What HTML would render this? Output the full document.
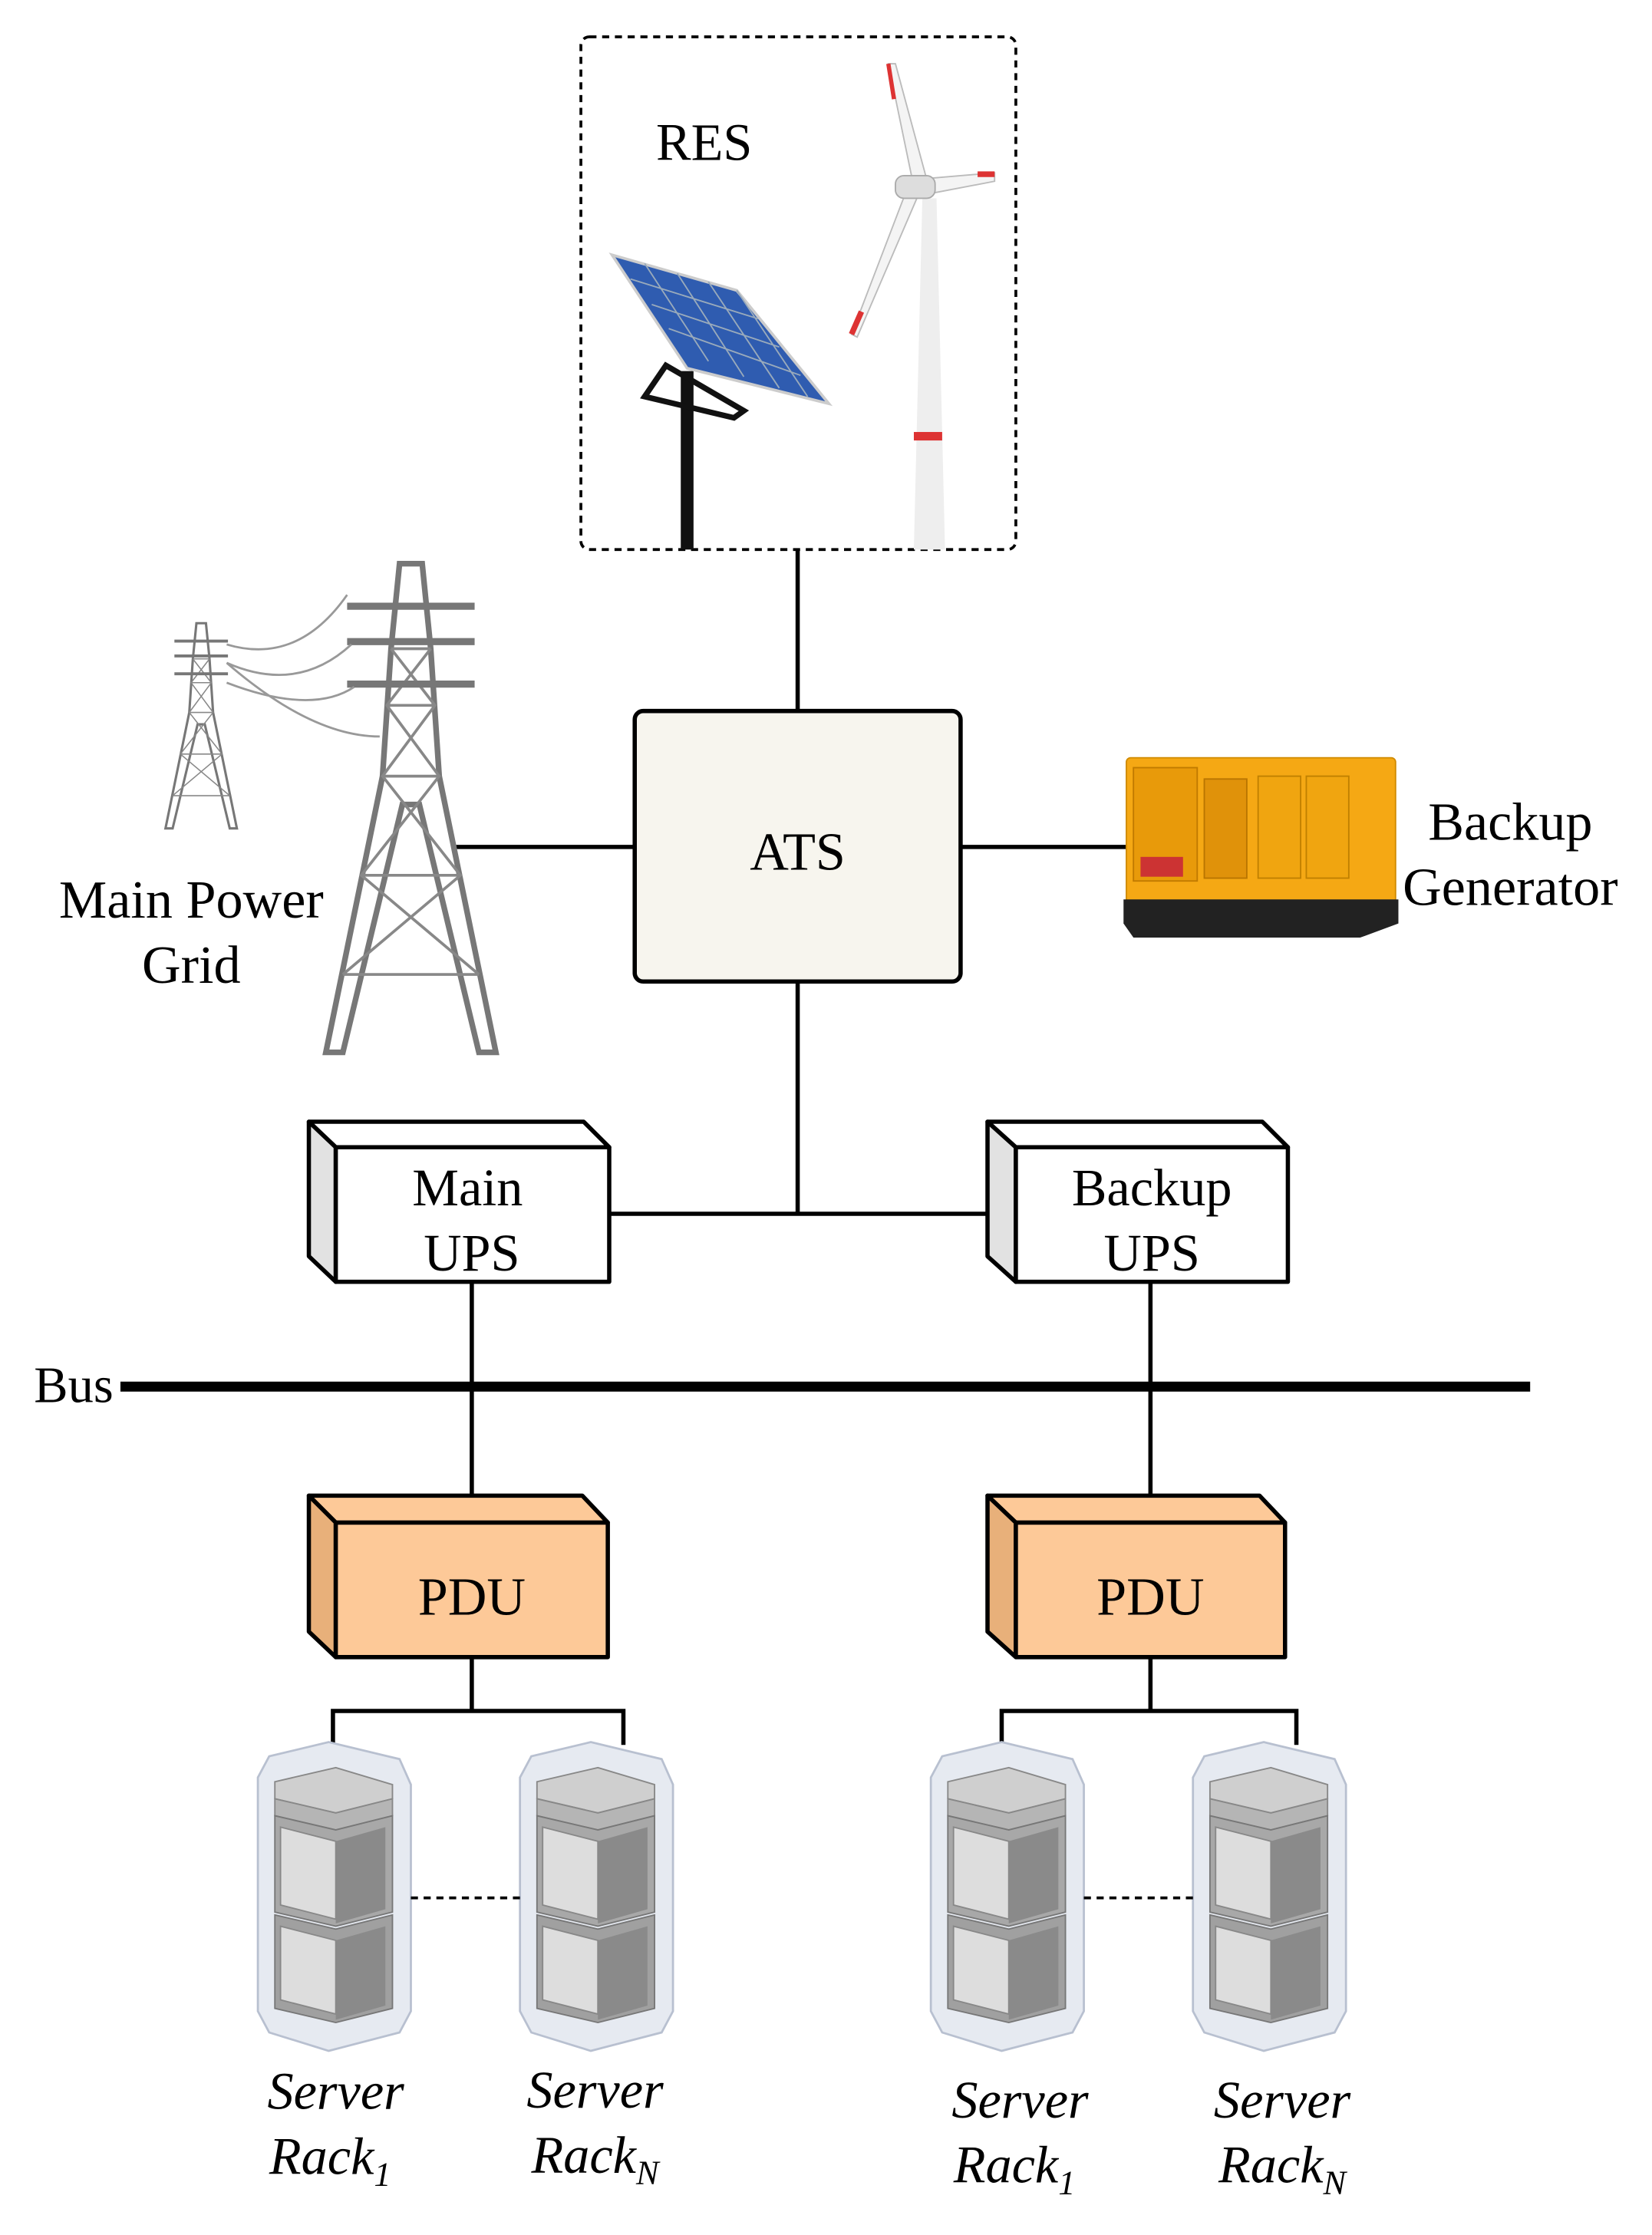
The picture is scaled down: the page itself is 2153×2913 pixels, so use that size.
<!DOCTYPE html>
<html><head><meta charset="utf-8"><style>
html,body{margin:0;padding:0;background:#fff}
svg{display:block}
text{font-family:"Liberation Serif",serif;fill:#000}
</style></head><body>
<svg width="2153" height="2913" viewBox="0 0 1166 1578" preserveAspectRatio="none" xmlns="http://www.w3.org/2000/svg">
<defs>
<g id="rack">
  <path d="M8,10 L50,0 L100,12 L108,30 L108,190 L100,205 L50,218 L8,205 L0,190 L0,25 Z" fill="#e6eaf1" stroke="#b8c0d0" stroke-width="1.5"/>
  <path d="M12,28 L55,18 L95,30 L95,40 L55,50 L12,40 Z" fill="#cfcfcf" stroke="#888"/>
  <path d="M12,40 L55,50 L95,40 L95,52 L55,62 L12,52 Z" fill="#b5b5b5" stroke="#888"/>
  <path d="M12,52 L55,62 L95,52 L95,120 L55,130 L12,120 Z" fill="#a8a8a8" stroke="#777"/>
  <path d="M16,60 L55,70 L55,125 L16,115 Z" fill="#ddd" stroke="#888"/>
  <path d="M12,122 L55,132 L95,122 L95,188 L55,198 L12,188 Z" fill="#a0a0a0" stroke="#777"/>
  <path d="M16,130 L55,140 L55,192 L16,182 Z" fill="#ddd" stroke="#888"/>
  <path d="M55,70 L90,60 L90,118 L55,128 Z" fill="#8a8a8a"/>
  <path d="M55,140 L90,130 L90,186 L55,196 Z" fill="#8a8a8a"/>
</g>
<g id="tower">
  <path d="M-8,0 L8,0 L14,60 L20,150 L60,345 L48,345 L6,170 L-6,170 L-48,345 L-60,345 L-20,150 L-14,60 Z" fill="none" stroke="#777" stroke-width="4"/>
  <path d="M-14,60 L14,60 M-17,100 L17,100 M-20,150 L20,150 M-35,220 L35,220 M-48,290 L48,290 M-14,60 L17,100 L-20,150 L35,220 L-48,290 M14,60 L-17,100 L20,150 L-35,220 L48,290" stroke="#888" stroke-width="2" fill="none"/>
  <path d="M-45,30 L45,30 M-45,55 L45,55 M-45,85 L45,85" stroke="#777" stroke-width="5"/>
</g>
</defs>

<!-- RES box -->
<rect x="410" y="26" width="307" height="362" rx="6" fill="none" stroke="#000" stroke-width="2" stroke-dasharray="5,4"/>
<text x="497" y="113" font-size="37" text-anchor="middle">RES</text>
<!-- solar -->
<line x1="485" y1="262" x2="485" y2="388" stroke="#111" stroke-width="9"/>
<path d="M455,280 L470,258 L525,290 L518,295 Z" fill="none" stroke="#111" stroke-width="4"/>
<path d="M432,180 L520,205 L585,285 L485,260 Z" fill="#2f5cb0" stroke="#ccc" stroke-width="2"/>
<path d="M445,197 L535,225 M460,215 L550,245 M472,232 L565,265 M455,186 L500,255 M478,193 L525,266 M500,199 L550,274 M520,205 L570,280" stroke="#9ab" stroke-width="1" fill="none"/>
<!-- wind -->
<path d="M651,140 L661,140 L667,388 L645,388 Z" fill="#eee"/>
<rect x="645" y="305" width="20" height="6" fill="#d33"/>
<path d="M645,132 L627,45 L632,45 L655,130 Z" fill="#f4f4f4" stroke="#bbb"/>
<path d="M655,126 L702,122 L702,128 L660,136 Z" fill="#f4f4f4" stroke="#bbb"/>
<path d="M648,138 L605,238 L601,236 L640,134 Z" fill="#f4f4f4" stroke="#bbb"/>
<rect x="632" y="124" width="28" height="16" rx="6" fill="#ddd" stroke="#aaa"/>
<line x1="627" y1="45" x2="631" y2="70" stroke="#d33" stroke-width="3"/>
<line x1="690" y1="123" x2="702" y2="123" stroke="#d33" stroke-width="4"/>
<line x1="601" y1="236" x2="608" y2="220" stroke="#d33" stroke-width="4"/>

<!-- connectors -->
<g stroke="#000" stroke-width="3" fill="none">
<line x1="563" y1="388" x2="563" y2="502"/>
<line x1="322" y1="598" x2="448" y2="598"/>
<line x1="678" y1="598" x2="795" y2="598"/>
<line x1="563" y1="693" x2="563" y2="857"/>
<line x1="430" y1="857" x2="697" y2="857"/>
<line x1="333" y1="905" x2="333" y2="1056"/>
<line x1="812" y1="905" x2="812" y2="1056"/>
<line x1="333" y1="1170" x2="333" y2="1208"/>
<path d="M235,1232 V1208 H440 V1232"/>
<line x1="812" y1="1170" x2="812" y2="1208"/>
<path d="M707,1232 V1208 H915 V1232"/>
</g>
<line x1="85" y1="979" x2="1080" y2="979" stroke="#000" stroke-width="7"/>
<text x="52" y="990" font-size="36" text-anchor="middle">Bus</text>

<!-- towers -->
<g transform="translate(142,440) scale(0.42)"><use href="#tower"/></g>
<g transform="translate(290,398) scale(1.0)"><use href="#tower"/></g>
<path d="M160,455 Q210,470 245,420 M160,468 Q210,490 248,455 M160,482 Q220,505 250,485 M160,468 Q220,520 268,520" stroke="#999" stroke-width="1.5" fill="none"/>
<text x="135" y="648" font-size="38" text-anchor="middle">Main Power</text>
<text x="135" y="694" font-size="38" text-anchor="middle">Grid</text>

<!-- ATS -->
<rect x="448" y="502" width="230" height="191" rx="6" fill="#f7f5ee" stroke="#000" stroke-width="3"/>
<text x="563" y="614" font-size="38" text-anchor="middle">ATS</text>

<!-- generator -->
<rect x="795" y="535" width="190" height="105" rx="3" fill="#f5a814" stroke="#d08a00"/>
<rect x="800" y="542" width="45" height="80" fill="#e89a0a" stroke="#c07a00"/>
<rect x="850" y="550" width="30" height="70" fill="#e0920a" stroke="#b97500"/>
<rect x="888" y="548" width="30" height="72" fill="#f0a510" stroke="#c08000"/>
<rect x="922" y="548" width="30" height="72" fill="#f0a510" stroke="#c08000"/>
<rect x="805" y="605" width="30" height="14" fill="#c33"/>
<path d="M793,635 L987,635 L987,652 L960,662 L800,662 L793,652 Z" fill="#222"/>
<text x="1066" y="593" font-size="38" text-anchor="middle">Backup</text>
<text x="1066" y="639" font-size="38" text-anchor="middle">Generator</text>

<!-- UPS boxes -->
<g stroke="#000" stroke-width="3" stroke-linejoin="round">
<path d="M218,792 L412,792 L430,810 L237,810 Z" fill="#fff"/>
<path d="M218,792 L237,810 L237,905 L218,887 Z" fill="#e2e2e2"/>
<rect x="237" y="810" width="193" height="95" fill="#fff"/>
<path d="M697,792 L891,792 L909,810 L717,810 Z" fill="#fff"/>
<path d="M697,792 L717,810 L717,905 L697,887 Z" fill="#e2e2e2"/>
<rect x="717" y="810" width="192" height="95" fill="#fff"/>
<path d="M218,1056 L411,1056 L429,1075 L237,1075 Z" fill="#fdc998"/>
<path d="M218,1056 L237,1075 L237,1170 L218,1152 Z" fill="#e8b07a"/>
<rect x="237" y="1075" width="192" height="95" fill="#fdc998"/>
<path d="M697,1056 L889,1056 L907,1075 L717,1075 Z" fill="#fdc998"/>
<path d="M697,1056 L717,1075 L717,1170 L697,1152 Z" fill="#e8b07a"/>
<rect x="717" y="1075" width="190" height="95" fill="#fdc998"/>
</g>
<text x="330" y="851" font-size="37" text-anchor="middle">Main</text>
<text x="333" y="897" font-size="37" text-anchor="middle">UPS</text>
<text x="813" y="851" font-size="37" text-anchor="middle">Backup</text>
<text x="813" y="897" font-size="37" text-anchor="middle">UPS</text>
<text x="333" y="1140" font-size="38" text-anchor="middle">PDU</text>
<text x="812" y="1140" font-size="38" text-anchor="middle">PDU</text>

<!-- racks -->
<use href="#rack" x="182" y="1230"/>
<use href="#rack" x="367" y="1230"/>
<use href="#rack" x="657" y="1230"/>
<use href="#rack" x="842" y="1230"/>
<line x1="290" y1="1340" x2="367" y2="1340" stroke="#000" stroke-width="2" stroke-dasharray="5,4"/>
<line x1="765" y1="1340" x2="842" y2="1340" stroke="#000" stroke-width="2" stroke-dasharray="5,4"/>

<g font-size="37" font-style="italic" text-anchor="middle">
<text x="237" y="1489">Server</text>
<text x="233" y="1535">Rack<tspan font-size="24" dy="8">1</tspan></text>
<text x="420" y="1488">Server</text>
<text x="420" y="1534">Rack<tspan font-size="24" dy="8">N</tspan></text>
<text x="720" y="1495">Server</text>
<text x="716" y="1541">Rack<tspan font-size="24" dy="8">1</tspan></text>
<text x="905" y="1495">Server</text>
<text x="905" y="1541">Rack<tspan font-size="24" dy="8">N</tspan></text>
</g>
</svg>
</body></html>
